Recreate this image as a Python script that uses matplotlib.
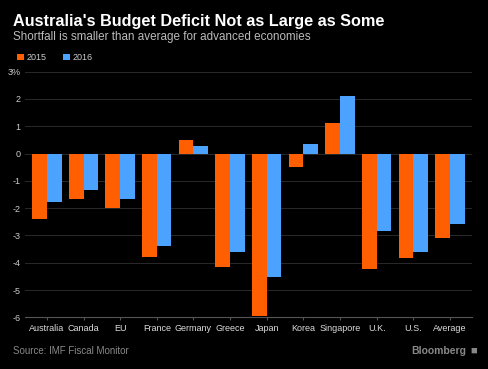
import matplotlib.pyplot as plt
import numpy as np

countries = ["Australia", "Canada", "EU", "France", "Germany", "Greece",
             "Japan", "Korea", "Singapore", "U.K.", "U.S.", "Average"]
deficit_2015 = [-2.41, -1.67, -2.01, -3.78, 0.51, -4.17, -5.94, -0.51, 1.13, -4.24, -3.83, -3.10]
deficit_2016 = [-1.79, -1.34, -1.67, -3.37, 0.29, -3.59, -4.54, 0.35, 2.12, -2.82, -3.59, -2.60]
yticks = [-6, -5, -4, -3, -2, -1, 0, 1, 2, 3]
ytick_labels = ["-6", "-5", "-4", "-3", "-2", "-1", "0", "1", "2", "3%"]

ORANGE = "#ff5f00"
BLUE = "#4ba3ff"
plt.rcParams['font.family'] = ['Liberation Sans', 'DejaVu Sans']

fig = plt.figure(figsize=(4.88, 3.69), dpi=100, facecolor="black")
ax = fig.add_axes([0.051, 0.140, 0.916, 0.666], facecolor="black")

x = np.arange(len(countries))
w = 0.4
ax.bar(x - w / 2, deficit_2015, w, color=ORANGE, label="2015")
ax.bar(x + w / 2, deficit_2016, w, color=BLUE, label="2016")

ax.set_xlim(-0.6, len(countries) - 0.4)
ax.set_ylim(-6, 3)
ax.set_yticks(yticks)
ax.set_yticklabels(ytick_labels)
ax.set_xticks(x)
ax.set_xticklabels(countries)
ax.grid(axis="y", color="#2a2a2a", linewidth=0.7)
ax.set_axisbelow(True)
for s in ["top", "right", "left"]:
    ax.spines[s].set_visible(False)
ax.spines["bottom"].set_color("#555555")
ax.spines["bottom"].set_linewidth(0.8)
ax.tick_params(axis="y", length=0, pad=3, labelsize=6.5, labelcolor="#cccccc")
ax.tick_params(axis="x", length=2, color="#555555", pad=3, labelsize=6.5, labelcolor="#dddddd")

fig.text(0.027, 0.943, "Australia's Budget Deficit Not as Large as Some", color="white",
         fontsize=11.7, fontweight="bold", va="center", ha="left")
fig.text(0.027, 0.900, "Shortfall is smaller than average for advanced economies", color="#bbbbbb",
         fontsize=8.4, va="center", ha="left")
leg = fig.legend(loc="upper left", bbox_to_anchor=(0.018, 0.878), ncol=2, frameon=False,
                 fontsize=6.5, handlelength=0.8, handleheight=0.8, handletextpad=0.3,
                 columnspacing=1.8, labelcolor="#cccccc")
fig.text(0.027, 0.048, "Source: IMF Fiscal Monitor", color="#888888", fontsize=7,
         va="center", ha="left")
fig.text(0.955, 0.050, "Bloomberg", color="#888888", fontsize=7.5, fontweight="bold",
         va="center", ha="right")
fig.text(0.977, 0.050, "\u25A0", color="#888888", fontsize=8, va="center", ha="right")

fig.savefig("out.png", dpi=100, facecolor="black")
